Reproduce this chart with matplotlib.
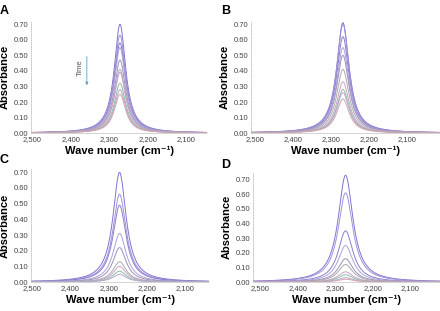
import numpy as np
import matplotlib
matplotlib.use("Agg")
import matplotlib.pyplot as plt
from matplotlib.ticker import FuncFormatter

plt.rcParams['font.family'] = ['Liberation Sans', 'DejaVu Sans']

# peak heights (absorbance)
peaks_a = [0.70, 0.63, 0.58, 0.55, 0.47, 0.41, 0.39, 0.32, 0.28, 0.25]
peaks_b = [0.71, 0.70, 0.62, 0.55, 0.50, 0.41, 0.33, 0.28, 0.26, 0.22]
peaks_c = [0.70, 0.56, 0.49, 0.31, 0.22, 0.13, 0.10, 0.07, 0.05]
peaks_d = [0.73, 0.61, 0.35, 0.25, 0.16, 0.12, 0.07, 0.05, 0.03, 0.02]
centre = [2272, 2268, 2272, 2272]
halfwidth = [18, 20, 21, 24]
panel_labels = ['A', 'B', 'C', 'D']
x_ticks = [2500, 2400, 2300, 2200, 2100]
y_ticks = [0.0, 0.1, 0.2, 0.3, 0.4, 0.5, 0.6, 0.7]

colors = ['#8272d2', '#a092da', '#8c7ec8', '#ada2dc', '#a090bc',
          '#ababab', '#cba2ca', '#8cbca8', '#b6aace', '#d4a0aa']

wn = np.linspace(2540, 2000, 1200)


def lorentz(x, h, x0, g):
    return h * g**2 / ((x - x0)**2 + g**2)


fig = plt.figure(figsize=(4.4, 3.11), dpi=100)

# [left, bottom, width, height], xlim, ylim
layout = [
    ([0.0705, 0.572, 0.400, 0.360], (2503, 2046), (0, 0.72)),
    ([0.570, 0.572, 0.430, 0.360], (2510, 2013), (0, 0.72)),
    ([0.0705, 0.093, 0.405, 0.363], (2503, 2038), (0, 0.72)),
    ([0.575, 0.093, 0.425, 0.353], (2519, 2020), (0, 0.75)),
]
all_peaks = [peaks_a, peaks_b, peaks_c, peaks_d]

for i, (pos, xl, yl) in enumerate(layout):
    ax = fig.add_axes(pos)
    for j, h in enumerate(all_peaks[i]):
        ax.plot(wn, lorentz(wn, h, centre[i], halfwidth[i]),
                color=colors[j % len(colors)], lw=0.7)
    ax.set_xlim(*xl)
    ax.set_ylim(*yl)
    ax.set_xticks(x_ticks)
    ax.set_yticks(y_ticks)
    ax.xaxis.set_major_formatter(FuncFormatter(lambda v, p: '{:,.0f}'.format(v)))
    ax.yaxis.set_major_formatter(FuncFormatter(lambda v, p: '%.2f' % v))
    ax.tick_params(labelsize=5.5, colors='#444444', length=0, pad=2)
    for s in ['top', 'right']:
        ax.spines[s].set_visible(False)
    ax.spines['left'].set_linestyle(':')
    ax.spines['left'].set_color('#bbbbbb')
    ax.spines['left'].set_linewidth(0.6)
    ax.spines['bottom'].set_color('#cccccc')
    ax.spines['bottom'].set_linewidth(0.6)
    ax.set_xlabel('Wave number (cm\u207b\u00b9)', fontsize=8, fontweight='bold', labelpad=2)
    ax.set_ylabel('Absorbance', fontsize=8, fontweight='bold', labelpad=3)
    if i == 0:
        ax.annotate('', xy=(2358, 0.29), xytext=(2358, 0.51),
                    arrowprops=dict(arrowstyle='-|>', color='#5aa0c8', lw=0.6,
                                    mutation_scale=4))
        ax.text(2374, 0.42, 'Time', rotation=90, fontsize=5.5, color='#555555',
                ha='center', va='center')

fig.text(0.0, 0.985, 'A', fontsize=9, fontweight='bold', va='top', ha='left')
fig.text(0.502, 0.985, 'B', fontsize=9, fontweight='bold', va='top', ha='left')
fig.text(0.0, 0.505, 'C', fontsize=9, fontweight='bold', va='top', ha='left')
fig.text(0.502, 0.49, 'D', fontsize=9, fontweight='bold', va='top', ha='left')

fig.savefig('out.png', dpi=100)
